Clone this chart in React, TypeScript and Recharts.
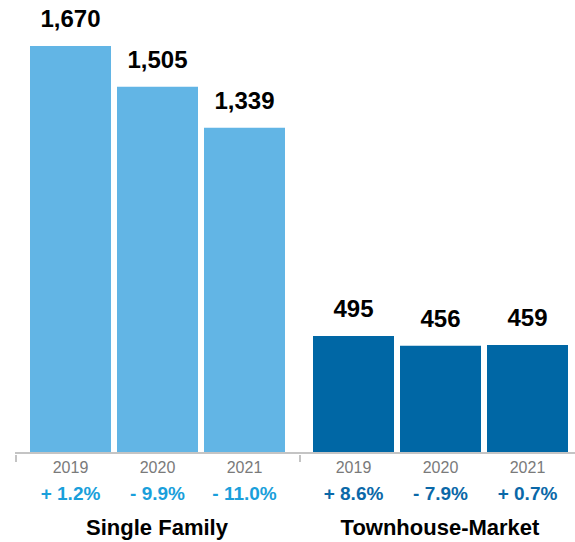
import { BarChart, Bar, XAxis, YAxis, LabelList, Label } from 'recharts';

const years = ['2019', '2020', '2021'];
const singleFamily = [1670, 1505, 1339];
const townhouse = [495, 456, 459];
const singleFamilyChange = ['+ 1.2%', '- 9.9%', '- 11.0%'];
const townhouseChange = ['+ 8.6%', '- 7.9%', '+ 0.7%'];

const FONT = "'Liberation Sans', Arial, Helvetica, sans-serif";
const AXIS_GRAY = '#c4c4c4';

function fmt(v: number) {
  return v.toLocaleString('en-US');
}

interface TickProps {
  x?: number;
  y?: number;
  index?: number;
  payload?: { value: string };
  changes: string[];
  changeColor: string;
  edgeX: number;
}

function YearTick({ x = 0, y = 0, index = 0, payload, changes, changeColor, edgeX }: TickProps) {
  return (
    <g>
      {index === 0 && (
        <line x1={edgeX} x2={edgeX} y1={y + 2} y2={y + 9} stroke={AXIS_GRAY} strokeWidth={2} />
      )}
      <text x={x} y={y + 19.5} textAnchor="middle" fill="#7a7a7a" fontSize={16} fontFamily={FONT}>
        {payload?.value}
      </text>
      <text x={x} y={y + 47} textAnchor="middle" fill={changeColor} fontSize={19} fontWeight="bold" fontFamily={FONT}>
        {changes[index]}
      </text>
    </g>
  );
}

interface GroupProps {
  values: number[];
  changes: string[];
  name: string;
  nameShift: number;
  barColor: string;
  changeColor: string;
  width: number;
  marginLeft: number;
  padding: { left: number; right: number };
  edgeX: number;
}

function GroupChart({ values, changes, name, nameShift, barColor, changeColor, width, marginLeft, padding, edgeX }: GroupProps) {
  const data = years.map((year, i) => ({ year, value: values[i] }));
  return (
    <BarChart
      width={width}
      height={542}
      data={data}
      margin={{ top: 46, right: 0, bottom: 0, left: marginLeft }}
      barCategoryGap={3}
    >
      <XAxis
        dataKey="year"
        height={89}
        padding={padding}
        tickLine={false}
        tickSize={0}
        tickMargin={0}
        interval={0}
        axisLine={{ stroke: AXIS_GRAY, strokeWidth: 2 }}
        tick={<YearTick changes={changes} changeColor={changeColor} edgeX={edgeX} />}
      >
        <Label
          value={name}
          position="insideBottom"
          offset={7}
          dx={nameShift}
          fill="#000"
          fontSize={22}
          fontWeight="bold"
          fontFamily={FONT}
        />
      </XAxis>
      <YAxis hide domain={[21, 1670]} />
      <Bar dataKey="value" fill={barColor} isAnimationActive={false}>
        <LabelList
          dataKey="value"
          position="top"
          offset={19}
          formatter={(v: number) => fmt(v)}
          fill="#000"
          fontSize={24}
          fontWeight="bold"
          fontFamily={FONT}
        />
      </Bar>
    </BarChart>
  );
}

export default function App() {
  return (
    <div style={{ position: 'absolute', left: 0, top: 0, width: 575, height: 542, display: 'flex', background: '#fff' }}>
      <GroupChart
        values={singleFamily}
        changes={singleFamilyChange}
        name="Single Family"
        nameShift={0}
        barColor="#62b5e5"
        changeColor="#1a9fdb"
        width={299}
        marginLeft={15}
        padding={{ left: 12, right: 11 }}
        edgeX={16}
      />
      <GroupChart
        values={townhouse}
        changes={townhouseChange}
        name="Townhouse-Market"
        nameShift={3}
        barColor="#0067a5"
        changeColor="#0a68a8"
        width={276}
        marginLeft={0}
        padding={{ left: 11, right: 4 }}
        edgeX={1}
      />
    </div>
  );
}
